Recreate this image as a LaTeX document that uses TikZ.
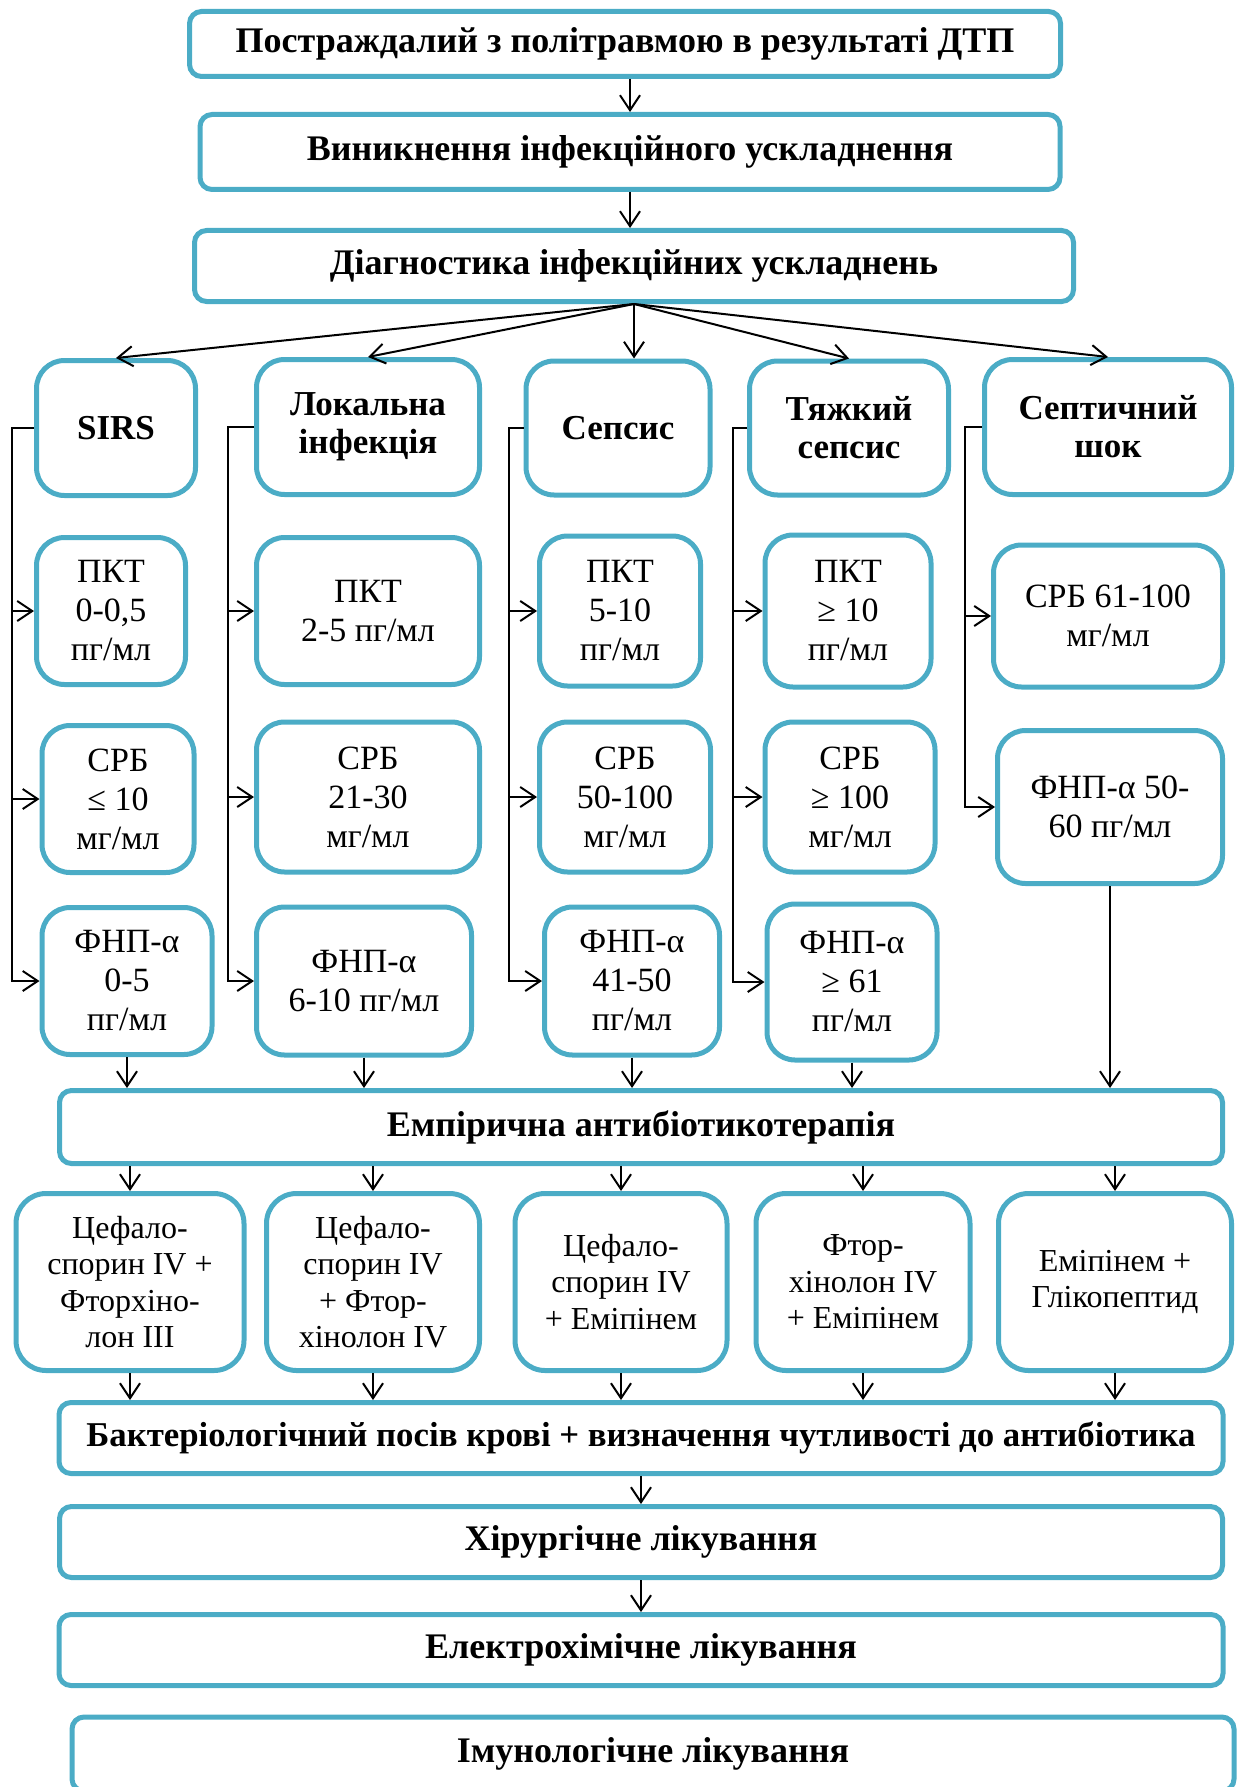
\documentclass[tikz,border=0pt]{standalone}
\usepackage{fontspec}
\setmainfont{Liberation Serif}
\usetikzlibrary{arrows.meta}
\definecolor{boxblue}{HTML}{4BACC6}

\begin{document}
\begin{tikzpicture}[x=1pt, y=-1pt, >={Straight Barb[length=15pt,width=20pt]},
        sz/.style 2 args={minimum width=#1pt, minimum height=#2pt},
        wide/.style={draw=boxblue, line width=5pt, rounded corners=12pt, inner sep=0pt,
            align=center, font=\bfseries\fontsize{36}{40}\selectfont},
        head/.style={draw=boxblue, line width=5pt, rounded corners=28pt, inner sep=0pt,
            align=center, font=\bfseries\fontsize{35}{38}\selectfont},
        val/.style={draw=boxblue, line width=5pt, rounded corners=28pt, inner sep=0pt,
            align=center, font=\fontsize{34}{39}\selectfont},
        drug/.style={draw=boxblue, line width=5pt, rounded corners=30pt, inner sep=0pt,
            align=center, font=\fontsize{32}{36.5}\selectfont},
        link/.style={->, line width=2pt}]

        \useasboundingbox (0,0) rectangle (1239,1787);

        % ==================== Верхні блоки ====================
        \node[wide, sz={871}{65}] (victim) at (625,44) {Постраждалий з політравмою в результаті ДТП};
        \node[wide, sz={860}{75}] (onset) at (630,152) {Виникнення інфекційного ускладнення};
        \node[wide, sz={879}{71}] (diag) at (634,266) {Діагностика інфекційних ускладнень};

        \draw[link] (onset.north |- victim.south) -- (onset.north);
        \draw[link] (onset.south) -- (onset.south |- diag.north);

        % ==================== Форми інфекції ====================
        \node[head, sz={159}{135}] (sirs) at (116,428) {SIRS};
        \node[head, sz={223}{135}] (loc) at (368,427) {Локальна\\інфекція};
        \node[head, sz={184}{134}] (seps) at (618,428) {Сепсис};
        \node[head, sz={199}{134}] (heavy) at (849,428) {Тяжкий\\сепсис};
        \node[head, sz={247}{135}] (shock) at (1108,427) {Септичний\\шок};

        % віяло стрілок від діагностики
        \draw[link] (diag.south) -- (sirs.north);
        \draw[link] (diag.south) -- (loc.north);
        \draw[link] (diag.south) -- (diag.south |- seps.north);
        \draw[link] (diag.south) -- (heavy.north);
        \draw[link] (diag.south) -- (shock.north);

        % ==================== Маркери ====================
        % ПКТ
        \node[val, sz={149}{147}] (sirsP) at (111,611) {ПКТ\\0-0,5\\пг/мл};
        \node[val, sz={223}{147}] (locP) at (368,611) {ПКТ\\2-5 пг/мл};
        \node[val, sz={161}{150}] (sepsP) at (620,611) {ПКТ\\5-10\\пг/мл};
        \node[val, sz={166}{152}] (heavyP) at (848,611) {ПКТ\\≥ 10\\пг/мл};
        \node[val, sz={229}{142}] (shockC) at (1108,616) {СРБ 61-100\\мг/мл};

        % СРБ
        \node[val, sz={152}{147}] (sirsC) at (118,799) {СРБ\\≤ 10\\мг/мл};
        \node[val, sz={223}{150}] (locC) at (368,797) {СРБ\\21-30\\мг/мл};
        \node[val, sz={171}{150}] (sepsC) at (625,797) {СРБ\\50-100\\мг/мл};
        \node[val, sz={170}{150}] (heavyC) at (850,797) {СРБ\\≥ 100\\мг/мл};
        \node[val, sz={225}{153}] (shockF) at (1110,807) {ФНП-α 50-\\60 пг/мл};

        % ФНП-α
        \node[val, sz={170}{147}] (sirsF) at (127,981) {ФНП-α\\0-5\\пг/мл};
        \node[val, sz={215}{148}] (locF) at (364,981) {ФНП-α\\6-10 пг/мл};
        \node[val, sz={175}{148}] (sepsF) at (632,981) {ФНП-α\\41-50\\пг/мл};
        \node[val, sz={170}{156}] (heavyF) at (852,982) {ФНП-α\\≥ 61\\пг/мл};

        % бічні скоби зліва від кожного стовпчика
        \coordinate (sirsT) at ([xshift=-22pt]sirs.west);
        \coordinate (locT) at ([xshift=-26pt]loc.west);
        \coordinate (sepsT) at ([xshift=-15pt]seps.west);
        \coordinate (heavyT) at ([xshift=-14pt]heavy.west);
        \coordinate (shockT) at ([xshift=-17pt]shock.west);

        \draw[link] (sirs.west) -- (sirsT) |- (sirsP.west);
        \draw[link] (sirsT) |- (sirsC.west);
        \draw[link] (sirsT) |- (sirsF.west);
        \draw[link] (loc.west) -- (locT) |- (locP.west);
        \draw[link] (locT) |- (locC.west);
        \draw[link] (locT) |- (locF.west);
        \draw[link] (seps.west) -- (sepsT) |- (sepsP.west);
        \draw[link] (sepsT) |- (sepsC.west);
        \draw[link] (sepsT) |- (sepsF.west);
        \draw[link] (heavy.west) -- (heavyT) |- (heavyP.west);
        \draw[link] (heavyT) |- (heavyC.west);
        \draw[link] (heavyT) |- (heavyF.west);
        \draw[link] (shock.west) -- (shockT) |- (shockC.west);
        \draw[link] (shockT) |- (shockF.west);

        % ==================== Антибіотикотерапія ====================
        \node[wide, sz={1163}{73}] (empir) at (641,1127) {Емпірична антибіотикотерапія};

        \draw[link] (sirsF.south) -- (sirsF.south |- empir.north);
        \draw[link] (locF.south) -- (locF.south |- empir.north);
        \draw[link] (sepsF.south) -- (sepsF.south |- empir.north);
        \draw[link] (heavyF.south) -- (heavyF.south |- empir.north);
        \draw[link] (shockF.south) -- (shockF.south |- empir.north);

        \node[drug, sz={228}{177}] (cefFq) at (130,1282) {Цефало-\\спорин IV +\\Фторхіно-\\лон III};
        \node[drug, sz={213}{177}] (cefFq4) at (373,1282) {Цефало-\\спорин IV\\+ Фтор-\\хінолон IV};
        \node[drug, sz={212}{177}] (cefEmi) at (621,1282) {Цефало-\\спорин IV\\+ Еміпінем};
        \node[drug, sz={214}{177}] (fqEmi) at (863,1282) {Фтор-\\хінолон IV\\+ Еміпінем};
        \node[drug, sz={233}{177}] (emiGly) at (1115,1282) {Еміпінем +\\Глікопептид};

        \draw[link] (empir.south -| cefFq.north) -- (cefFq.north);
        \draw[link] (empir.south -| cefFq4.north) -- (cefFq4.north);
        \draw[link] (empir.south -| cefEmi.north) -- (cefEmi.north);
        \draw[link] (empir.south -| fqEmi.north) -- (fqEmi.north);
        \draw[link] (empir.south -| emiGly.north) -- (emiGly.north);

        % ==================== Подальше лікування ====================
        \node[wide, sz={1164}{71}, font=\bfseries\fontsize{34.8}{40}\selectfont] (bact) at (641,1438) {Бактеріологічний посів крові + визначення чутливості до антибіотика};
        \node[wide, sz={1163}{71}] (surg) at (641,1542) {Хірургічне лікування};
        \node[wide, sz={1164}{71}] (elchem) at (641,1650) {Електрохімічне лікування};
        \node[wide, sz={1162}{74}] (immun) at (653,1754) {Імунологічне лікування}; % низ блоку за краєм

        \draw[link] (cefFq.south) -- (cefFq.south |- bact.north);
        \draw[link] (cefFq4.south) -- (cefFq4.south |- bact.north);
        \draw[link] (cefEmi.south) -- (cefEmi.south |- bact.north);
        \draw[link] (fqEmi.south) -- (fqEmi.south |- bact.north);
        \draw[link] (emiGly.south) -- (emiGly.south |- bact.north);

        \draw[link] (bact) -- (surg);
        \draw[link] (surg) -- (elchem);

    \end{tikzpicture}
\end{document}
